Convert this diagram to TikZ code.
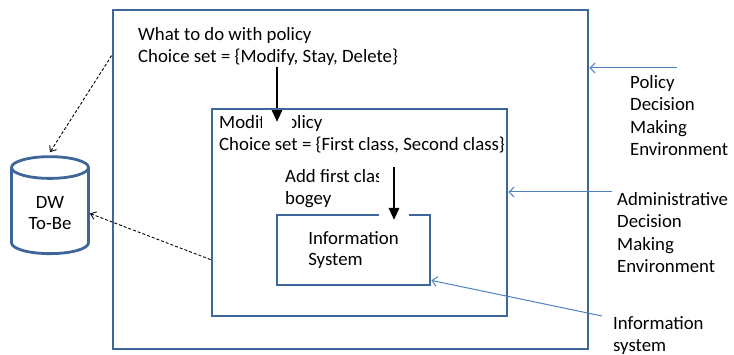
\documentclass[tikz,border=0pt]{standalone}
\usepackage{fontspec}
\setmainfont{Carlito}
\usetikzlibrary{positioning, calc, arrows.meta, shapes.geometric}
\definecolor{boxblue}{HTML}{3F6698}
\definecolor{lineblue}{HTML}{4F81BD}

\begin{document}
\begin{tikzpicture}[x=1pt,y=-1pt,pbox/.style={draw=boxblue, line width=2.8pt, rectangle, inner sep=0pt},txt/.style={anchor=north west, align=left, inner sep=0pt, font=\fontsize{18.8}{22.5}\selectfont},bigarr/.style={line width=2.8pt, -{Triangle[width=10pt,length=12pt]}, preaction={draw=white, line width=30pt, -, shorten >=#1}},bigarr/.default=0pt,dotarr/.style={densely dashed, line width=0.9pt, -{Straight Barb[length=5pt,width=8pt]}},thinarr/.style={draw=lineblue, line width=1pt, -{Straight Barb[length=5pt,width=10pt]}}]
\useasboundingbox (0,0) rectangle (734,355);
\node[pbox, minimum width=475pt, minimum height=339pt] (pol) at (350.5,179.5) {};
\node[txt] (q1) at (138,27) {What to do with policy\\Choice set = \{Modify, Stay, Delete\}};
\node[txt] (q2) at (219,115) {Modify Policy\\Choice set = \{First class, Second class\}};
\coordinate (a1s) at (277,67); \coordinate (a1e) at (277,122);
\draw[bigarr=-13pt] (a1s) -- (a1e);
\node[pbox, minimum width=295pt, minimum height=207pt] (adm) at (359.5,212.5) {};
\node[txt] (q3) at (285,169) {Add first class\\bogey};
\node[pbox, minimum width=153pt, minimum height=70pt, align=left, font=\fontsize{18.8}{21}\selectfont] (inf) at (353.5,250) {Information\\System};
\coordinate (a2s) at (394,167); \coordinate (a2e) at (394,220);
\draw[bigarr] (a2s) -- (a2e);
\node[cylinder, shape border rotate=90, draw=boxblue, line width=2.8pt, aspect=0.44, minimum width=77pt, minimum height=97pt, align=center, font=\fontsize{18.8}{21}\selectfont] (dw) at (50,213.5) {DW\\To-Be};
\draw[dotarr] ([yshift=-47pt]pol.north west) -- ([yshift=3pt]dw.north);
\draw[dotarr] ([yshift=-152pt]adm.north west) -- (dw.east);
% labels on the right
\node[txt] (lp) at (630,75) {Policy\\Decision\\Making\\Environment};
\node[txt] (la) at (617,192) {Administrative\\Decision\\Making\\Environment};
\node[txt] (li) at (613,316) {Information\\system};
\coordinate (r1) at (677,68); \coordinate (r2) at (612,192); \coordinate (r3) at (602,316);
\draw[thinarr] (r1) -- (pol.east |- r1); \draw[thinarr] (r2) -- (adm.east |- r2); \draw[thinarr] (r3) -- ([yshift=6pt]inf.south east);
\end{tikzpicture}
\end{document}
